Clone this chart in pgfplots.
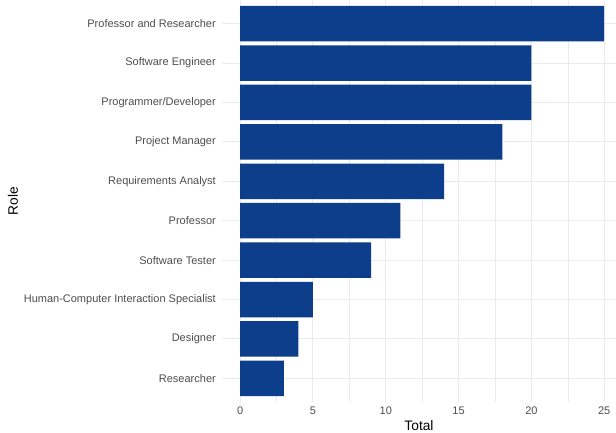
\documentclass[border=0pt]{standalone}
\usepackage{pgfplots}
\pgfplotsset{compat=1.18}
\usepackage{fontspec}
\setmainfont{Liberation Sans}
\definecolor{barblue}{RGB}{12,62,140}
\definecolor{gridc}{RGB}{235,235,235}
\definecolor{tickc}{RGB}{77,77,77}
\begin{document}
\begin{tikzpicture}
\path[use as bounding box] (-222bp,-31bp) rectangle (394bp,402bp);
\begin{axis}[
  scale only axis,
  width=394bp, height=402bp,
  xmin=-1.25, xmax=25.81,
  ymin=-0.6, ymax=9.6,
  axis line style={draw=none},
  xbar, bar width=0.9,
  xtick={0,5,10,15,20,25},
  minor xtick={2.5,7.5,12.5,17.5,22.5},
  ytick={0,1,2,3,4,5,6,7,8,9},
  yticklabels={Researcher,Designer,Human-Computer Interaction Specialist,Software Tester,Professor,Requirements Analyst,Project Manager,Programmer/Developer,Software Engineer,Professor and Researcher},
  major tick length=0, minor tick length=0,
  xmajorgrids, ymajorgrids, xminorgrids,
  major grid style={draw=gridc, line width=1bp},
  minor grid style={draw=gridc, line width=0.5bp},
  /pgf/number format/assume math mode=true,
  ticklabel style={font=\fontsize{11bp}{13bp}\selectfont, text=tickc, inner sep=0pt},
  xticklabel style={anchor=north, yshift=-5bp},
  yticklabel style={anchor=east, xshift=-6bp},
  xlabel={Total}, ylabel={Role},
  label style={font=\fontsize{13.75bp}{16bp}\selectfont, text=black},
  xlabel style={at={(axis description cs:0.5,0)}, anchor=center, yshift=-24bp},
  ylabel style={at={(axis description cs:0,0.5)}, anchor=center, yshift=209bp},
  clip=false,
]
\addplot[fill=barblue, draw=none] coordinates {
(3,0) (4,1) (5,2) (9,3) (11,4) (14,5) (18,6) (20,7) (20,8) (25,9)
};
\end{axis}
\end{tikzpicture}
\end{document}
